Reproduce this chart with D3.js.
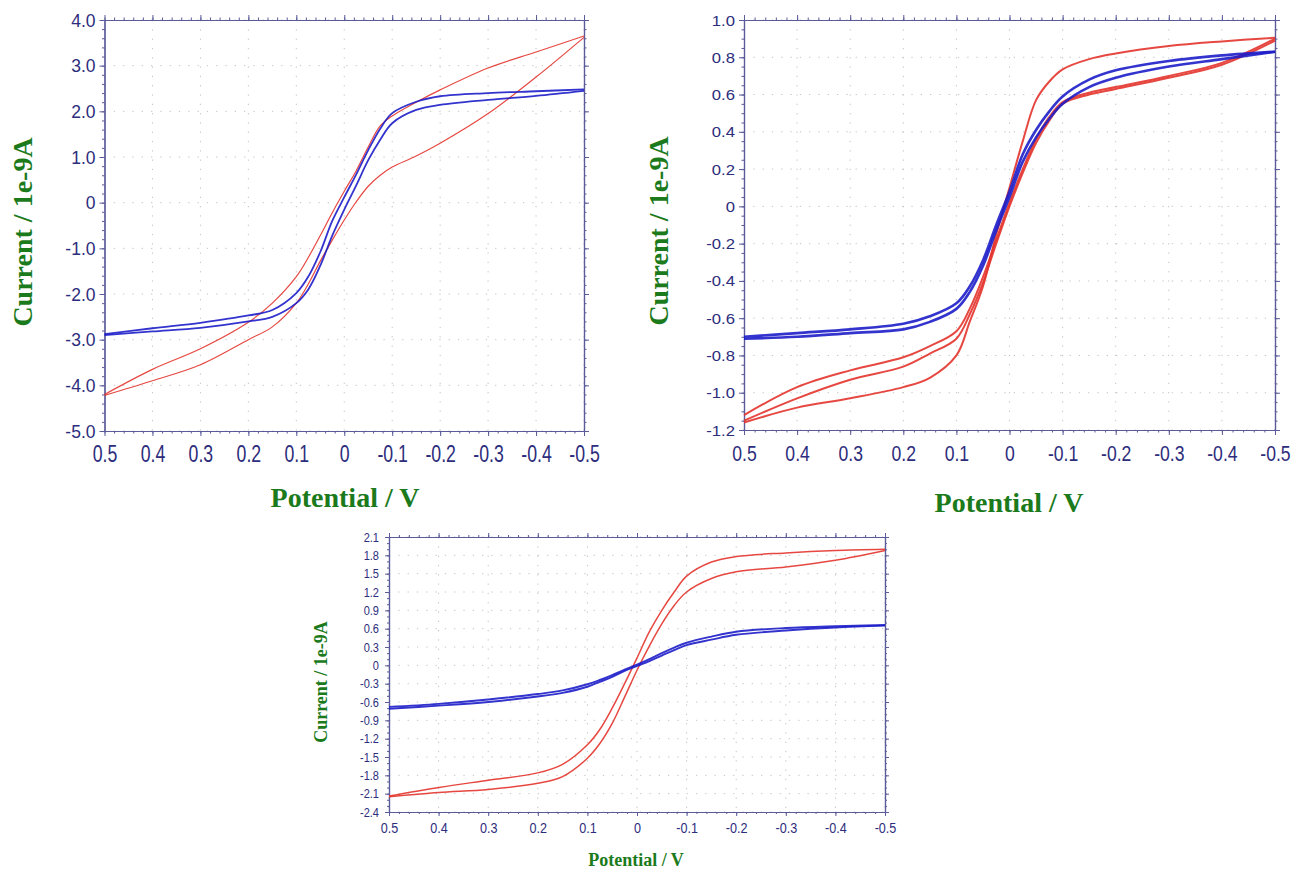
<!DOCTYPE html>
<html>
<head>
<meta charset="utf-8">
<script src="https://cdn.jsdelivr.net/npm/d3@7"></script>
<style>
  body { margin: 0; background: #fff; }
  svg { display: block; }
</style>
</head>
<body>
<svg id="chart" width="1293" height="871"></svg>
<script>

// ---- data (potential in V, current in 1e-9 A)
var potential = [0.5, 0.4, 0.3, 0.2, 0.15, 0.1, 0.075, 0.05, 0.025, 0,
                 -0.025, -0.05, -0.075, -0.1, -0.15, -0.2, -0.3, -0.4, -0.5];

var xTicks = [0.5, 0.4, 0.3, 0.2, 0.1, 0, -0.1, -0.2, -0.3, -0.4, -0.5];

// panel 1 (top left)
var p1YTicks = [4.0, 3.0, 2.0, 1.0, 0, -1.0, -2.0, -3.0, -4.0, -5.0];
var p1RedUpper  = [-4.2, -3.65, -3.2, -2.62, -2.2, -1.62, -1.2, -0.72, -0.22, 0.25,
                   0.7, 1.22, 1.68, 1.9, 2.2, 2.47, 2.95, 3.3, 3.65];
var p1RedLower  = [-4.22, -3.9, -3.55, -3.0, -2.72, -2.2, -1.78, -1.28, -0.82, -0.38,
                   0.02, 0.36, 0.6, 0.78, 1.02, 1.3, 1.95, 2.75, 3.62];
var p1BlueUpper = [-2.88, -2.75, -2.63, -2.47, -2.35, -1.98, -1.62, -1.08, -0.4, 0.12,
                   0.62, 1.15, 1.62, 1.96, 2.21, 2.33, 2.4, 2.44, 2.48];
var p1BlueLower = [-2.9, -2.82, -2.74, -2.6, -2.5, -2.2, -1.9, -1.38, -0.72, -0.15,
                   0.38, 0.93, 1.38, 1.74, 2.03, 2.14, 2.25, 2.34, 2.45];

// panel 2 (top right)
var p2YTicks = [1.0, 0.8, 0.6, 0.4, 0.2, 0, -0.2, -0.4, -0.6, -0.8, -1.0, -1.2];
var p2RedSteep  = [-1.16, -1.08, -1.03, -0.97, -0.92, -0.8, -0.62, -0.43, -0.15, 0.1,
                   0.35, 0.57, 0.67, 0.735, 0.79, 0.82, 0.86, 0.885, 0.905];
var p2RedCycle1 = [-1.12, -0.97, -0.88, -0.81, -0.75, -0.67, -0.55, -0.38, -0.18, 0.02,
                   0.2, 0.36, 0.48, 0.56, 0.61, 0.64, 0.7, 0.77, 0.9];
var p2RedCycle2 = [-1.15, -1.03, -0.93, -0.86, -0.79, -0.71, -0.58, -0.41, -0.2, 0.0,
                   0.18, 0.34, 0.46, 0.55, 0.6, 0.63, 0.69, 0.76, 0.89];
var p2BlueUpper = [-0.7, -0.68, -0.66, -0.63, -0.59, -0.52, -0.43, -0.29, -0.1, 0.08,
                   0.28, 0.41, 0.51, 0.59, 0.68, 0.73, 0.78, 0.81, 0.83];
var p2BlueLower = [-0.71, -0.7, -0.68, -0.66, -0.62, -0.55, -0.46, -0.32, -0.13, 0.05,
                   0.24, 0.37, 0.47, 0.55, 0.64, 0.69, 0.75, 0.79, 0.83];

// panel 3 (bottom)
var p3YTicks = [2.1, 1.8, 1.5, 1.2, 0.9, 0.6, 0.3, 0, -0.3, -0.6, -0.9, -1.2, -1.5, -1.8, -2.1, -2.4];
var p3RedUpper  = [-2.14, -2.0, -1.88, -1.76, -1.62, -1.3, -1.05, -0.7, -0.3, 0.12,
                   0.55, 0.9, 1.2, 1.46, 1.69, 1.78, 1.84, 1.88, 1.9];
var p3RedLower  = [-2.15, -2.08, -2.03, -1.93, -1.82, -1.52, -1.28, -0.95, -0.52, -0.08,
                   0.32, 0.68, 0.98, 1.2, 1.42, 1.53, 1.61, 1.72, 1.88];
var p3BlueUpper = [-0.68, -0.63, -0.56, -0.47, -0.41, -0.31, -0.24, -0.16, -0.07, 0.01,
                   0.1, 0.2, 0.29, 0.37, 0.47, 0.55, 0.61, 0.64, 0.66];
var p3BlueLower = [-0.71, -0.66, -0.6, -0.51, -0.45, -0.35, -0.27, -0.19, -0.09, -0.01,
                   0.07, 0.16, 0.25, 0.33, 0.42, 0.5, 0.57, 0.62, 0.65];

// ---- styles
var RED = '#e3342c', BLUE = '#1d1dc9', GREEN = '#1b7a1b';
var AXIS = '#5b5b99', LABEL = '#2d2d7c', GRID = '#c4c4c4';

var svg = d3.select('#chart');
svg.append('rect').attr('width', 1293).attr('height', 871).attr('fill', '#fff');

var panels = [
  { left: 104.5, right: 584, top: 20, bottom: 431,
    yTicks: p1YTicks, yMinorStep: 0.2, xMinorStep: 0.02,
    major: 5, minor: 2.5,
    xFont: 23, xScale: 0.77, xBase: 31,
    yFont: 17.5, yScale: 1.0, yGap: 9,
    titleFont: 28, yTitle: [22, 232], xTitle: [345, 507],
    redWidth: 1.2, blueWidth: 1.8,
    series: [[p1RedLower, RED], [p1RedUpper, RED], [p1BlueLower, BLUE], [p1BlueUpper, BLUE]] },
  { left: 744, right: 1275, top: 20, bottom: 430,
    yTicks: p2YTicks, yMinorStep: 0.05, xMinorStep: 0.02,
    major: 5, minor: 2.5,
    xFont: 22, xScale: 0.8, xBase: 31,
    yFont: 14.5, yScale: 1.15, yGap: 9,
    titleFont: 28, yTitle: [658, 231], xTitle: [1009, 512],
    redWidth: 2.0, blueWidth: 2.6,
    series: [[p2RedCycle2, RED], [p2RedCycle1, RED], [p2RedSteep, RED], [p2BlueLower, BLUE], [p2BlueUpper, BLUE]] },
  { left: 389, right: 885, top: 537, bottom: 812,
    yTicks: p3YTicks, yMinorStep: 0.1, xMinorStep: 0.02,
    major: 4, minor: 2,
    xFont: 14, xScale: 0.9, xBase: 21,
    yFont: 12, yScale: 0.92, yGap: 10,
    titleFont: 18, yTitle: [321, 682], xTitle: [636, 866],
    redWidth: 1.5, blueWidth: 1.9,
    series: [[p3RedLower, RED], [p3RedUpper, RED], [p3BlueLower, BLUE], [p3BlueUpper, BLUE]] }
];

function tickLabel(d) { return d === 0 ? '0' : d.toFixed(1); }

function minorValues(lo, hi, step) {
  var n0 = Math.round(lo / step), n1 = Math.round(hi / step);
  return d3.range(n0, n1 + 1).map(function(i){ return +(i * step).toFixed(4); });
}

function styleAxis(sel) {
  sel.select('.domain').attr('stroke', AXIS).attr('stroke-width', 1.2);
  sel.selectAll('.tick line').attr('stroke', AXIS).attr('stroke-width', 1);
}

panels.forEach(function(p){
  var g = svg.append('g');
  var yMin = d3.min(p.yTicks), yMax = d3.max(p.yTicks);

  var x = d3.scaleLinear().domain([0.5, -0.5]).range([p.left, p.right]);
  var y = d3.scaleLinear().domain([yMin, yMax]).range([p.bottom, p.top]);

  // dotted grid at the major ticks
  g.append('g').selectAll('line').data(xTicks).join('line')
    .attr('x1', function(d){ return x(d); }).attr('x2', function(d){ return x(d); })
    .attr('y1', p.top).attr('y2', p.bottom);
  g.append('g').selectAll('line').data(p.yTicks).join('line')
    .attr('y1', function(d){ return y(d); }).attr('y2', function(d){ return y(d); })
    .attr('x1', p.left).attr('x2', p.right);
  g.selectAll('line').attr('stroke', GRID).attr('stroke-width', 1)
    .attr('stroke-dasharray', '1.3,8');

  var xMinor = minorValues(-0.5, 0.5, p.xMinorStep);
  var yMinor = minorValues(yMin, yMax, p.yMinorStep);

  // bottom
  var bottom = g.append('g').attr('transform', 'translate(0,' + p.bottom + ')');
  bottom.append('g').call(d3.axisBottom(x).tickValues(xMinor).tickSize(p.minor).tickSizeOuter(0).tickFormat('')).call(styleAxis);
  var bx = bottom.append('g').call(d3.axisBottom(x).tickValues(xTicks).tickSize(p.major).tickSizeOuter(0).tickFormat(tickLabel)).call(styleAxis);
  bx.selectAll('.tick text')
    .attr('y', p.xBase).attr('dy', 0)
    .attr('transform', 'scale(' + p.xScale + ',1)')
    .attr('fill', LABEL).style('font-family', '"Liberation Sans", Arial, sans-serif')
    .style('font-size', p.xFont + 'px');

  // top
  var top = g.append('g').attr('transform', 'translate(0,' + p.top + ')');
  top.append('g').call(d3.axisTop(x).tickValues(xMinor).tickSize(p.minor).tickSizeOuter(0).tickFormat('')).call(styleAxis);
  top.append('g').call(d3.axisTop(x).tickValues(xTicks).tickSize(p.major).tickSizeOuter(0).tickFormat('')).call(styleAxis);

  // left
  var left = g.append('g').attr('transform', 'translate(' + p.left + ',0)');
  left.append('g').call(d3.axisLeft(y).tickValues(yMinor).tickSize(p.minor).tickSizeOuter(0).tickFormat('')).call(styleAxis);
  var ly = left.append('g').call(d3.axisLeft(y).tickValues(p.yTicks).tickSize(p.major).tickSizeOuter(0).tickFormat(tickLabel)).call(styleAxis);
  ly.selectAll('.tick text')
    .attr('x', -p.yGap / p.yScale).attr('dy', '0.35em')
    .attr('transform', 'scale(' + p.yScale + ',1)')
    .attr('fill', LABEL).style('font-family', '"Liberation Sans", Arial, sans-serif')
    .style('font-size', p.yFont + 'px');

  // right
  var right = g.append('g').attr('transform', 'translate(' + p.right + ',0)');
  right.append('g').call(d3.axisRight(y).tickValues(yMinor).tickSize(p.minor).tickSizeOuter(0).tickFormat('')).call(styleAxis);
  right.append('g').call(d3.axisRight(y).tickValues(p.yTicks).tickSize(p.major).tickSizeOuter(0).tickFormat('')).call(styleAxis);

  // voltammogram branches
  var line = d3.line()
    .x(function(d, i){ return x(potential[i]); })
    .y(function(d){ return y(d); })
    .curve(d3.curveCatmullRom.alpha(0.5));

  g.append('g').selectAll('path').data(p.series).join('path')
    .attr('d', function(s){ return line(s[0]); })
    .attr('fill', 'none')
    .attr('stroke', function(s){ return s[1]; })
    .attr('stroke-width', function(s){ return s[1] === RED ? p.redWidth : p.blueWidth; })
    .attr('stroke-opacity', 0.9);

  // axis titles
  g.append('text')
    .attr('transform', 'translate(' + p.yTitle[0] + ',' + p.yTitle[1] + ') rotate(-90)')
    .attr('text-anchor', 'middle').attr('dy', '0.35em')
    .attr('fill', GREEN).style('font-family', '"Liberation Serif", "Times New Roman", serif')
    .style('font-weight', 'bold').style('font-size', p.titleFont + 'px')
    .text('Current / 1e-9A');

  g.append('text')
    .attr('x', p.xTitle[0]).attr('y', p.xTitle[1])
    .attr('text-anchor', 'middle')
    .attr('fill', GREEN).style('font-family', '"Liberation Serif", "Times New Roman", serif')
    .style('font-weight', 'bold').style('font-size', p.titleFont + 'px')
    .text('Potential / V');
});

</script>
</body>
</html>
